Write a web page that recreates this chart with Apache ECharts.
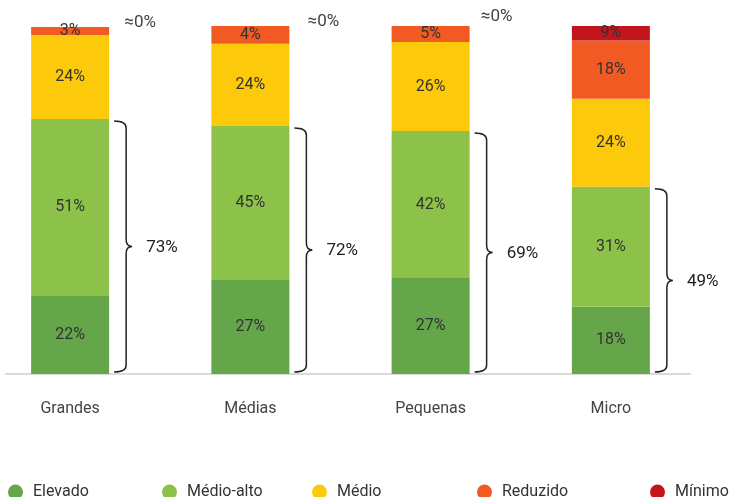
<!DOCTYPE html>
<html>
<head>
<meta charset="utf-8">
<script src="https://cdn.jsdelivr.net/npm/echarts@6/dist/echarts.min.js"></script>
<style>html,body{margin:0;padding:0;background:#fff;}#c{width:732px;height:497px;}</style>
</head>
<body>
<div id="c"></div>
<script>
const categories = ['Grandes', 'Médias', 'Pequenas', 'Micro'];
const seriesNames = ['Elevado', 'Médio-alto', 'Médio', 'Reduzido', 'Mínimo'];
const colors = ['#65A64A', '#8CC24A', '#FCC90B', '#F15A22', '#C3161C'];
// segment heights as drawn
const elevado   = [22.4, 27.0, 27.6, 19.3];
const medioAlto = [50.9, 44.3, 42.2, 34.5];
const medio     = [24.1, 23.6, 25.6, 25.3];
const reduzido  = [2.3, 5.1, 4.6, 16.7];
const minimo    = [0, 0, 0, 4.3];
// printed labels
const elevadoLbl   = ['22%', '27%', '27%', '18%'];
const medioAltoLbl = ['51%', '45%', '42%', '31%'];
const medioLbl     = ['24%', '24%', '26%', '24%'];
const reduzidoLbl  = ['3%', '4%', '5%', '18%'];
const minimoLbl    = ['≈0%', '≈0%', '≈0%', '9%'];
const totalLbl     = ['73%', '72%', '69%', '49%'];

const values = [elevado, medioAlto, medio, reduzido, minimo];
const labels = [elevadoLbl, medioAltoLbl, medioLbl, reduzidoLbl, minimoLbl];
const FONT = 'Roboto';
const zeroOffsets = [[70, 6], [73, 6], [66, 1]];

const barSeries = seriesNames.map((name, s) => ({
  name: name,
  type: 'bar',
  stack: 'total',
  barWidth: 78,
  itemStyle: { color: colors[s] },
  label: {
    show: true,
    position: 'inside',
    color: '#333',
    fontFamily: FONT,
    fontSize: 16,
    formatter: p => labels[s][p.dataIndex]
  },
  data: values[s].map((v, i) => {
    if (v === 0) {
      return { value: v, label: { position: 'top', distance: 2, offset: zeroOffsets[i],
                                  color: '#444', fontSize: 17 } };
    }
    return v;
  })
}));

const bracketData = categories.map((c, i) => [i, elevado[i] + medioAlto[i]]);

const option = {
  animation: false,
  backgroundColor: '#fff',
  grid: [
    { left: -20, width: 721, top: 26, bottom: 123, outerBoundsMode: 'none', containLabel: false },
    { left: 6, right: 42, top: 26, bottom: 123, outerBoundsMode: 'none', containLabel: false }
  ],
  xAxis: [
    { type: 'category', gridIndex: 0, data: categories,
      axisLine: { show: false }, axisTick: { show: false },
      axisLabel: { color: '#444', fontFamily: FONT, fontSize: 16, margin: 27 } },
    { type: 'category', gridIndex: 1, data: categories,
      axisLine: { show: true, lineStyle: { color: '#DADADA', width: 2 } },
      axisTick: { show: false }, axisLabel: { show: false } }
  ],
  yAxis: [
    { type: 'value', gridIndex: 0, min: 0, max: 100, show: false },
    { type: 'value', gridIndex: 1, min: 0, max: 100, show: false }
  ],
  legend: seriesNames.map((n, s) => ({
    data: [n],
    left: [3, 157, 307, 472, 645][s],
    top: 479,
    icon: 'circle',
    itemWidth: 15,
    itemHeight: 15,
    textStyle: { color: '#333', fontFamily: FONT, fontSize: 16, padding: [0, 0, 0, 5] }
  })),
  series: barSeries.concat([{
    type: 'custom',
    xAxisIndex: 0,
    yAxisIndex: 0,
    z: 5,
    data: bracketData,
    renderItem: function (params, api) {
      const i = api.value(0);
      const v = api.value(1);
      const p0 = api.coord([i, 0]);
      const p1 = api.coord([i, v]);
      const cx = p0[0];
      const bottom = p0[1] - 2;
      const top = p1[1] + 2;
      const mid = (top + bottom) / 2;
      const x0 = cx + 44, x1 = cx + 56, x2 = cx + 62, r = 7;
      const path = `M${x0},${top} Q${x1},${top} ${x1},${top + r} L${x1},${mid - r} Q${x1},${mid} ${x2},${mid} Q${x1},${mid} ${x1},${mid + r} L${x1},${bottom - r} Q${x1},${bottom} ${x0},${bottom}`;
      return {
        type: 'group',
        children: [
          { type: 'path', shape: { pathData: path },
            style: { fill: 'none', stroke: '#222', lineWidth: 1.5 } },
          { type: 'text', x: cx + 76, y: mid + 1,
            style: { text: totalLbl[params.dataIndex], fill: '#222', font: '17px ' + FONT,
                     verticalAlign: 'middle', align: 'left' } }
        ]
      };
    }
  }])
};

const chart = echarts.init(document.getElementById('c'), null, { renderer: 'canvas' });
chart.setOption(option);
</script>
</body>
</html>
